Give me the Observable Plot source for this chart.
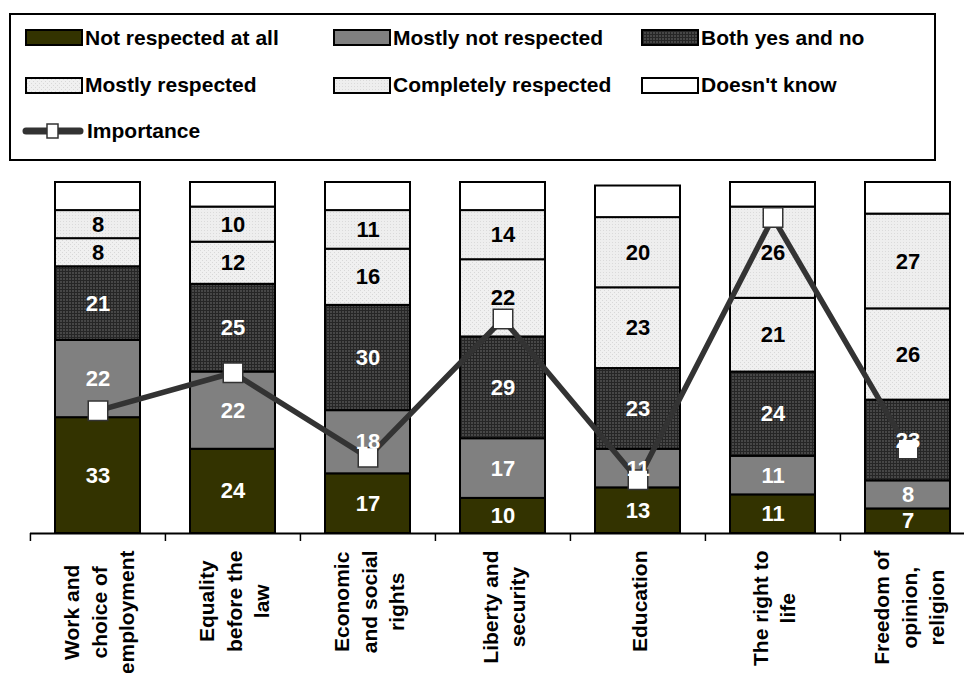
<!DOCTYPE html>
<html><head><meta charset="utf-8">
<script src="https://cdn.jsdelivr.net/npm/d3@7"></script>
<script src="https://cdn.jsdelivr.net/npm/@observablehq/plot@0.6"></script>
<style>
body{margin:0;background:#fff;font-family:"Liberation Sans",Arial,sans-serif;}
#wrap{width:964px;overflow:hidden;}
#legend{position:relative;width:964px;height:170px;}
#legendBox{position:absolute;left:9px;top:13px;width:927px;height:148px;border:2px solid #000;box-sizing:border-box;}
.item{position:absolute;display:flex;align-items:center;height:24px;font-weight:bold;font-size:21px;color:#000;white-space:nowrap;}
.item svg{display:block;margin-right:2px;}
#chart svg{display:block;}
</style></head><body>
<svg width="0" height="0" style="position:absolute">
 <defs>
  <pattern id="pBoth" width="3" height="3" patternUnits="userSpaceOnUse">
   <rect width="3" height="3" fill="#262626"/>
   <rect width="2" height="2" fill="#474747"/>
  </pattern>
  <pattern id="pMostly" width="4" height="4" patternUnits="userSpaceOnUse">
   <rect width="4" height="4" fill="#f0f0f0"/>
   <rect x="0" y="0" width="1" height="1" fill="#d8d8d8"/>
   <rect x="2" y="2" width="1" height="1" fill="#d8d8d8"/>
  </pattern>
  <pattern id="pComplete" width="3" height="3" patternUnits="userSpaceOnUse">
   <rect width="3" height="3" fill="#eeeeee"/>
   <rect x="0" y="0" width="1" height="1" fill="#dadada"/>
  </pattern>
 </defs>
</svg>
<div id="wrap">
 <div id="legend"><div id="legendBox"></div></div>
 <div id="chart"></div>
</div>
<script>
// ---- data ----
const categories = [
  "Work and\nchoice of\nemployment",
  "Equality\nbefore the\nlaw",
  "Economic\nand social\nrights",
  "Liberty and\nsecurity",
  "Education",
  "The right to\nlife",
  "Freedom of\nopinion,\nreligion"
];
const seriesNames = ["Not respected at all", "Mostly not respected", "Both yes and no",
                     "Mostly respected", "Completely respected", "Doesn't know"];
const notRespectedAtAll   = [33, 24, 17, 10, 13, 11, 7];
const mostlyNotRespected  = [22, 22, 18, 17, 11, 11, 8];
const bothYesAndNo        = [21, 25, 30, 29, 23, 24, 23];
const mostlyRespected     = [8, 12, 16, 22, 23, 21, 26];
const completelyRespected = [8, 10, 11, 14, 20, 26, 27];
const doesntKnow          = [8, 7, 8, 8, 9, 7, 9];
const importance          = [35.0, 45.8, 21.7, 61.1, 15.3, 90.0, 24.1];
const lineName = "Importance";

// ---- styles ----
const seriesFills = ["#333300", "#808080", "url(#pBoth)", "url(#pMostly)", "url(#pComplete)", "#ffffff"];
const whiteLabelSeries = seriesNames.slice(0, 3);
const blackLabelSeries = seriesNames.slice(3, 5);
const FONT = '"Liberation Sans", Arial, sans-serif';

const seriesValues = [notRespectedAtAll, mostlyNotRespected, bothYesAndNo, mostlyRespected, completelyRespected, doesntKnow];
const rows = categories.flatMap((c, i) => seriesNames.map((s, j) => ({cat: c, series: s, value: seriesValues[j][i]})));
const impRows = categories.map((c, i) => ({cat: c, value: importance[i]}));

// ---- legend ----
const legendEl = document.getElementById("legend");
const colX = [25, 333, 641], rowY = [37.5, 85, 131];
const legendItems = seriesNames.map((s, j) => ({name: s, fill: seriesFills[j]})).concat([{name: lineName, line: true}]);
legendItems.forEach((it, k) => {
  const div = document.createElement("div");
  div.className = "item";
  div.style.left = (it.line ? 21 : colX[k % 3]) + "px";
  div.style.top = (rowY[Math.floor(k / 3)] - 12) + "px";
  if (it.line) {
    div.innerHTML = `<svg width="64" height="20"><line x1="5" y1="10" x2="59" y2="10" stroke="#333" stroke-width="7" stroke-linecap="round"/><rect x="26" y="3" width="11" height="14" fill="#fff" stroke="#333" stroke-width="1.5"/></svg>`;
  } else {
    div.innerHTML = `<svg width="58" height="17"><rect x="1" y="1" width="56" height="15" fill="${it.fill}" stroke="#000" stroke-width="2"/></svg>`;
  }
  const span = document.createElement("span");
  span.textContent = it.name;
  div.appendChild(span);
  legendEl.appendChild(div);
});

// ---- chart ----
const xRange = [30, 976];
const step = (xRange[1] - xRange[0]) / categories.length;
const ctx = document.createElement("canvas").getContext("2d");
ctx.font = `bold 21px ${FONT}`;
const labelLen = categories.map(c => Math.max(...c.split("\n").map(l => ctx.measureText(l).width)));

const chart = Plot.plot({
  width: 964, height: 503,
  marginTop: 12, marginBottom: 140, marginLeft: 30, marginRight: 0,
  style: {fontFamily: FONT, background: "white", overflow: "visible"},
  x: {domain: categories, range: xRange, paddingInner: 0.37, paddingOuter: 0.185, axis: null, label: null},
  y: {domain: [0, 100], axis: null, label: null},
  color: {domain: seriesNames, range: seriesFills},
  marks: [
    Plot.barY(rows, {x: "cat", y: "value", fill: "series", stroke: "black", strokeWidth: 2}),
    Plot.ruleY([0], {stroke: "black", strokeWidth: 2}),
    Plot.axisX({tickSize: 8, tickFormat: () => "", label: null, dx: -step / 2, stroke: "black", strokeWidth: 1.5}),
    Plot.line(impRows, {x: "cat", y: "value", stroke: "#333333", strokeWidth: 5.5}),
    Plot.dot(impRows, {x: "cat", y: "value", symbol: "square", r: 11, fill: "white", stroke: "#333333", strokeWidth: 1.5}),
    Plot.text(rows, Plot.stackY({x: "cat", y: "value", z: "series",
      text: d => whiteLabelSeries.includes(d.series) ? String(d.value) : "",
      fill: "white", fontSize: 22, fontWeight: "bold"})),
    Plot.text(rows, Plot.stackY({x: "cat", y: "value", z: "series",
      text: d => blackLabelSeries.includes(d.series) ? String(d.value) : "",
      fill: "black", fontSize: 22, fontWeight: "bold"})),
    ...categories.map((c, i) => Plot.text([c], {
      x: d => d, text: d => d, frameAnchor: "bottom", rotate: -90,
      textAnchor: "middle", lineAnchor: "middle", lineHeight: 1.3,
      dy: 17 + labelLen[i] / 2, fontSize: 21, fontWeight: "bold", fill: "black"
    }))
  ]
});
document.getElementById("chart").appendChild(chart);
</script>
</body></html>
